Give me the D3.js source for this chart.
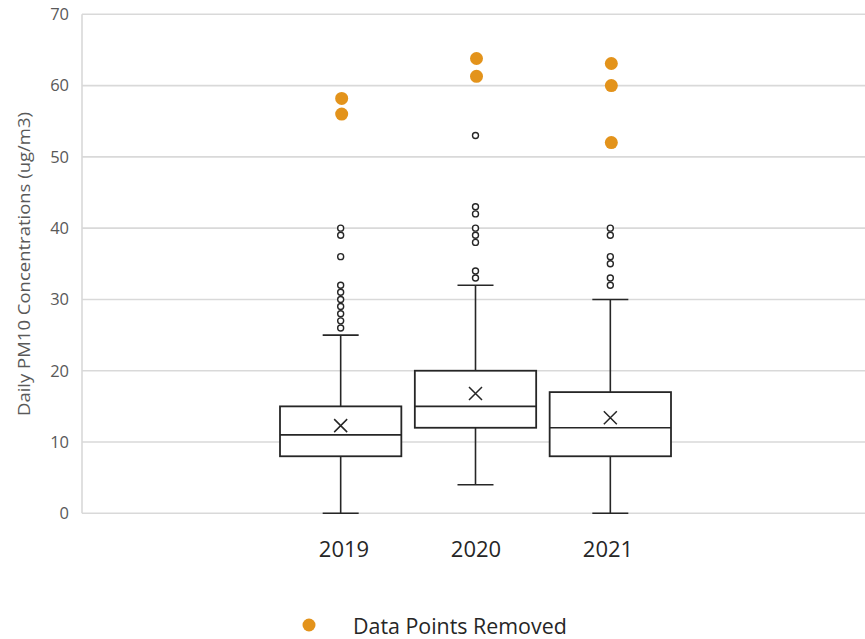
<!DOCTYPE html>
<html>
<head>
<meta charset="utf-8">
<script src="https://cdn.jsdelivr.net/npm/d3@7"></script>
<style>
  body { margin: 0; background: #fff; }
  svg { display: block; font-family: "Open Sans", "Noto Sans", sans-serif; }
</style>
</head>
<body>
<div id="chart"></div>
<script>
// data
var years = ["2019", "2020", "2021"];
var whiskerLow = [0, 4, 0];
var q1 = [8, 12, 8];
var medians = [11, 15, 12];
var q3 = [15, 20, 17];
var whiskerHigh = [25, 32, 30];
var means = [12.3, 16.8, 13.4];
var outliers = [
    [26, 27, 28, 29, 30, 31, 32, 36, 39, 40],
    [33, 34, 38, 39, 40, 42, 43, 53],
    [32, 33, 35, 36, 39, 40]
];
var removed = [
    [56, 58.2],
    [61.3, 63.8],
    [52, 60, 63.1]
];
var yTicks = [0, 10, 20, 30, 40, 50, 60, 70];

var W = 865, H = 639;
// plot area (window.top is read-only, so keep these in an object)
var plot = { left: 82, right: 868, top: 14.3, bottom: 513.3 };

var svg = d3.select("#chart").append("svg")
    .attr("width", W)
    .attr("height", H);

var y = d3.scaleLinear().domain([0, 70]).range([plot.bottom, plot.top]);

// the three boxes sit side by side in the middle of one category
var x = d3.scaleBand()
    .domain(years)
    .range([280, 671])
    .paddingInner(0.1)
    .paddingOuter(0);

// the year labels don't sit exactly under the boxes
var xLabel = d3.scalePoint()
    .domain(years)
    .range([344, 608]);

// gridlines
svg.append("g")
    .selectAll("line")
    .data(yTicks)
    .enter().append("line")
    .attr("x1", plot.left)
    .attr("x2", plot.right)
    .attr("y1", d => y(d))
    .attr("y2", d => y(d))
    .style("stroke", "#d9d9d9")
    .style("stroke-width", 1.6);

svg.append("line")
    .attr("x1", plot.left).attr("x2", plot.left)
    .attr("y1", y(70)).attr("y2", y(0))
    .style("stroke", "#d9d9d9")
    .style("stroke-width", 1.6);

// y tick labels
svg.append("g")
    .selectAll("text")
    .data(yTicks)
    .enter().append("text")
    .attr("x", 69)
    .attr("y", d => y(d))
    .attr("dy", "0.35em")
    .attr("text-anchor", "end")
    .style("font-size", "16.5px")
    .style("fill", "#595959")
    .text(d => d);

// y axis title
svg.append("text")
    .attr("transform", "translate(30,264) rotate(-90)")
    .attr("text-anchor", "middle")
    .attr("textLength", 304)
    .attr("lengthAdjust", "spacingAndGlyphs")
    .style("font-size", "16px")
    .style("fill", "#595959")
    .text("Daily PM10 Concentrations (ug/m3)");

var ink = "#262626";
var boxes = svg.selectAll(".box")
    .data(years)
    .enter().append("g")
    .attr("class", "box");

// whiskers
boxes.append("line")
    .attr("x1", d => x(d) + x.bandwidth() / 2)
    .attr("x2", d => x(d) + x.bandwidth() / 2)
    .attr("y1", (d, i) => y(whiskerLow[i]))
    .attr("y2", (d, i) => y(whiskerHigh[i]))
    .style("stroke", ink)
    .style("stroke-width", 1.6);

[whiskerLow, whiskerHigh].forEach(function(arr) {
    boxes.append("line")
        .attr("x1", d => x(d) + x.bandwidth() / 2 - 18)
        .attr("x2", d => x(d) + x.bandwidth() / 2 + 18)
        .attr("y1", (d, i) => y(arr[i]))
        .attr("y2", (d, i) => y(arr[i]))
        .style("stroke", ink)
        .style("stroke-width", 1.6);
});

// box
boxes.append("rect")
    .attr("x", d => x(d))
    .attr("width", x.bandwidth())
    .attr("y", (d, i) => y(q3[i]))
    .attr("height", (d, i) => y(q1[i]) - y(q3[i]))
    .style("fill", "#fff")
    .style("stroke", ink)
    .style("stroke-width", 1.8);

// median
boxes.append("line")
    .attr("x1", d => x(d))
    .attr("x2", d => x(d) + x.bandwidth())
    .attr("y1", (d, i) => y(medians[i]))
    .attr("y2", (d, i) => y(medians[i]))
    .style("stroke", ink)
    .style("stroke-width", 1.6);

// mean marker (x)
var mk = 6.5;
boxes.append("path")
    .attr("d", function(d, i) {
        var cx = x(d) + x.bandwidth() / 2, cy = y(means[i]);
        return `M${cx - mk},${cy - mk}L${cx + mk},${cy + mk}M${cx - mk},${cy + mk}L${cx + mk},${cy - mk}`;
    })
    .style("stroke", ink)
    .style("stroke-width", 1.5)
    .style("fill", "none");

// outliers and removed points
boxes.each(function(d, i) {
    var cx = x(d) + x.bandwidth() / 2;
    d3.select(this).selectAll(".outlier")
        .data(outliers[i])
        .enter().append("circle")
        .attr("class", "outlier")
        .attr("cx", cx)
        .attr("cy", v => y(v))
        .attr("r", 3)
        .style("fill", "#fff")
        .style("stroke", ink)
        .style("stroke-width", 1.4);

    d3.select(this).selectAll(".removed")
        .data(removed[i])
        .enter().append("circle")
        .attr("class", "removed")
        .attr("cx", cx + 1)
        .attr("cy", v => y(v))
        .attr("r", 6.5)
        .style("fill", "#e3931b");
});

// year labels
boxes.append("text")
    .attr("x", d => xLabel(d))
    .attr("y", 557)
    .attr("text-anchor", "middle")
    .style("font-size", "22px")
    .style("fill", "#262626")
    .text(d => d);

// legend
svg.append("circle")
    .attr("cx", 309)
    .attr("cy", 625)
    .attr("r", 6.5)
    .style("fill", "#e3931b");

svg.append("text")
    .attr("x", 353)
    .attr("y", 634)
    .style("font-size", "21.4px")
    .style("fill", "#262626")
    .text("Data Points Removed");
</script>
</body>
</html>
